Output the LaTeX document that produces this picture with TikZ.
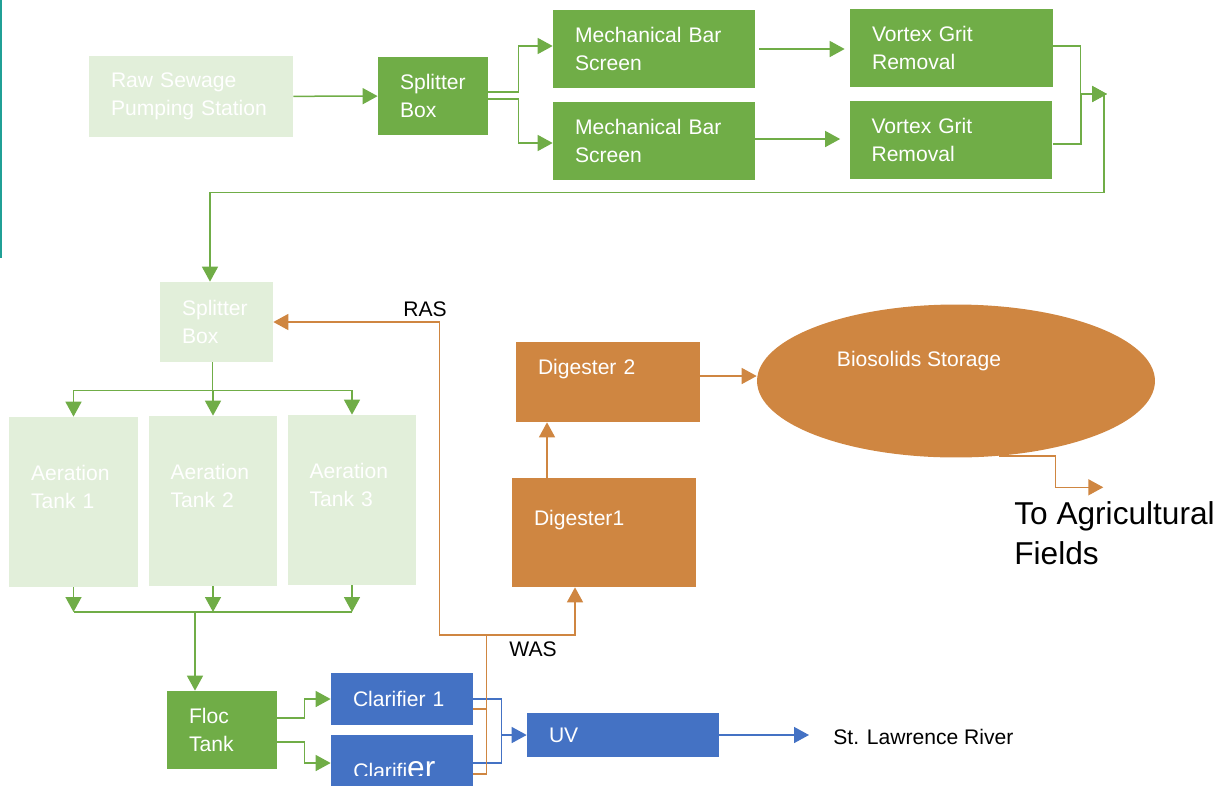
\documentclass[tikz,border=0pt]{standalone}
\usepackage{fontspec}
\setmainfont{Liberation Sans}
\usepackage{tikz}
\usetikzlibrary{shapes,arrows.meta}

\definecolor{grn}{RGB}{112,173,71}
\definecolor{ltgrn}{RGB}{226,239,218}
\definecolor{org}{RGB}{207,134,65}
\definecolor{blu}{RGB}{68,114,196}
\definecolor{tealbar}{RGB}{32,160,150}

\tikzset{
  box/.style={rectangle, inner xsep=0.44cm, inner ysep=0pt, text=white, align=left, font=\fontsize{12}{16}\selectfont},
  gbox/.style={box, fill=grn},
  lbox/.style={box, fill=ltgrn},
  obox/.style={box, fill=org},
  bluebox/.style={box, fill=blu},
  tank/.style={lbox, text width=1.7cm, minimum height=3.4cm, text depth=1.16cm},
  lbl/.style={inner sep=0pt, font=\fontsize{12}{16}\selectfont},
  gline/.style={draw=grn, line width=0.03cm},
  oline/.style={draw=org, line width=0.03cm},
  bline/.style={draw=blu, line width=0.03cm},
  garrow/.style={gline, -{Triangle[length=0.3cm,width=0.32cm]}},
  oarrow/.style={oline, -{Triangle[length=0.3cm,width=0.32cm]}},
  barrow/.style={bline, -{Triangle[length=0.3cm,width=0.32cm]}}
}

\begin{document}
\begin{tikzpicture}[x=0.02cm, y=-0.02cm]
\useasboundingbox (0,0) rectangle (1223,785);
\draw[tealbar, line width=0.04cm] (1,0) -- (1,258);

% headworks
\node[lbox, text width=3.2cm, minimum height=1.62cm] (raw) at (191,96.5) {Raw Sewage\\Pumping Station};
\node[gbox, text width=1.32cm, minimum height=1.56cm] (split1) at (433,96) {Splitter\\Box};
\node[gbox, text width=3.16cm, minimum height=1.56cm] (mech1) at (654,49) {Mechanical Bar\\Screen};
\node[gbox, text width=3.16cm, minimum height=1.56cm] (mech2) at (654,141) {Mechanical Bar\\Screen};
\node[gbox, text width=3.18cm, minimum height=1.56cm] (vort1) at (951.5,48) {Vortex Grit\\Removal};
\node[gbox, text width=3.18cm, minimum height=1.56cm] (vort2) at (951,140) {Vortex Grit\\Removal};
\coordinate (jn) at (1107,94);

% secondary
\node[lbox, text width=1.38cm, minimum height=1.6cm] (split2) at (216.5,322) {Splitter\\Box};
\node[tank] (aer1) at (73.5,502) {Aeration\\Tank 1};
\node[tank] (aer2) at (213,501) {Aeration\\Tank 2};
\node[tank] (aer3) at (352,500) {Aeration\\Tank 3};
\coordinate (coll) at (195,612);
\node[gbox, text width=1.32cm, minimum height=1.56cm] (floc) at (222,730) {Floc\\Tank};
\node[bluebox, text width=1.96cm, minimum height=1.04cm] (clar1) at (402,699) {Clarifier 1};
\node[bluebox, text width=1.96cm, minimum height=1.3cm] (clar2) at (402,767.5) {};
\begin{scope}
\clip (331,735) rectangle (473,775);
\node[lbl, white, anchor=base west] (clar2txt) at (353,778) {Clarifi{\fontsize{18}{20}\selectfont er}};
\end{scope}
\node[bluebox, text width=2.96cm, minimum height=0.88cm] (uv) at (623,735) {UV};
\node[lbl, anchor=west] (river) at (833,736.5) {St. Lawrence River};

% solids
\node[obox, text width=2.8cm, minimum height=1.6cm, text depth=0.6cm] (dig2) at (608,382) {Digester 2};
\node[obox, text width=2.8cm, minimum height=2.18cm, text depth=0.6cm] (dig1) at (604,532.5) {Digester1};
\node[ellipse, fill=org, minimum width=7.96cm, minimum height=3.06cm, inner sep=0pt] (bio) at (956,381) {};
\node[lbl, white] (biolbl) at (919,361) {Biosolids Storage};
\node[lbl, align=left, anchor=west, font=\fontsize{18}{22.8}\selectfont] (fields) at (1014,533) {To Agricultural\\Fields};
\node[lbl] (ras) at (425,309.5) {RAS};
\node[lbl] (was) at (533,649.5) {WAS};

% top line
\draw[garrow] (raw) -- (split1);
\draw[garrow] ([yshift=0.08cm]split1.east) -- ++(30,0) |- ([yshift=0.06cm]mech1.west);
\draw[garrow] ([yshift=-0.06cm]split1.east) -- ++(30,0) |- ([yshift=-0.04cm]mech2.west);
\draw[garrow, shorten <=0.08cm, shorten >=0.1cm] (mech1.east) -- (mech1.east -| vort1.west);
\draw[garrow, shorten >=0.18cm] ([yshift=0.04cm]mech2.east) -- ([yshift=0.04cm]mech2.east -| vort2.west);
\draw[garrow] ([yshift=0.04cm]vort1.east) -- ++(27,0) |- (jn);
\draw[garrow] ([yshift=-0.08cm]vort2.east) -- ++(28,0) |- (jn);
\draw[garrow] ([xshift=-0.06cm]jn) -- ++(0,98.7) -| ([xshift=-0.13cm]split2.north);

% aeration
\draw[gline] ([xshift=-0.08cm]split2.south) -- ++(0,28) coordinate (dist);
\foreach \t in {aer1,aer2,aer3} \draw[garrow] (dist) -| (\t);
\foreach \t in {aer1,aer2,aer3} \draw[garrow] (\t.south) -- (\t.south |- coll);
\draw[gline] (aer1.south |- coll) -- (aer3.south |- coll);
\draw[garrow] (coll) -- (coll |- floc.north);
\draw[garrow] ([yshift=0.24cm]floc.east) -- ++(27,0) |- (clar1);
\draw[garrow] ([yshift=-0.24cm]floc.east) -- ++(27,0) |- ([yshift=0.09cm]clar2.west);

% effluent
\draw[bline] (clar1.east) -- ++(28,0) coordinate (bj) |- ([yshift=0.09cm]clar2.east);
\draw[barrow] (bj |- uv.west) -- (uv.west);
\draw[barrow] (uv.east) -- ([xshift=-0.48cm]river.west |- uv.east);

% sludge
\draw[oline] ([yshift=-0.2cm]clar1.east) -- ++(13,0);
\draw[oline] ([yshift=-0.13cm]clar2.east) -- ++(13,0) -- ++(0,-139) coordinate (wasj);
\draw[oarrow] (wasj) -| ([xshift=-0.58cm]dig1.south);
\draw[oarrow] (wasj) -- ++(-47,0) |- (split2);
\draw[oarrow] ([xshift=-1.14cm]dig1.north) -- ([xshift=-1.14cm]dig1.north |- dig2.south);
\draw[oarrow] ([yshift=0.12cm]dig2.east) -- ([yshift=0.12cm]dig2.east -| bio.west);
\draw[oarrow] (bio.300) -- ++(56,0) -- ++(0,31.3) -- ++(48,0);
\end{tikzpicture}
\end{document}
